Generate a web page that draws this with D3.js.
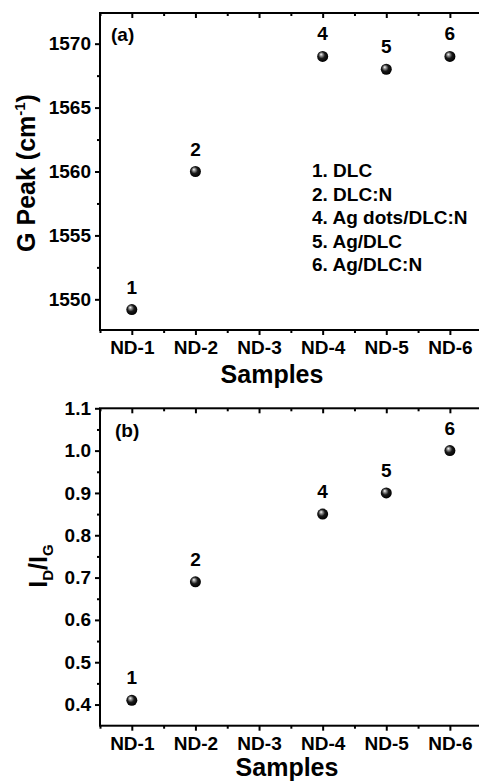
<!DOCTYPE html>
<html>
<head>
<meta charset="utf-8">
<script src="https://cdn.jsdelivr.net/npm/d3@7"></script>
<style>
  html, body { margin: 0; padding: 0; background: #fff; }
  svg { display: block; }
  text { font-family: "Liberation Sans", Arial, sans-serif; font-weight: bold; fill: #000; }
</style>
</head>
<body>
<div id="container"></div>
<script>
// data
let samples = ['ND-1', 'ND-2', 'ND-3', 'ND-4', 'ND-5', 'ND-6'];
let pointLabels = ['1', '2', '3', '4', '5', '6'];
let gPeak = [1549.2, 1560, null, 1569, 1568, 1569];
let ratio = [0.41, 0.69, null, 0.85, 0.90, 1.00];
let legendItems = ['1. DLC', '2. DLC:N', '4. Ag dots/DLC:N', '5. Ag/DLC', '6. Ag/DLC:N'];
let gTicks = [1550, 1555, 1560, 1565, 1570];
let gMinor = [1552.5, 1557.5, 1562.5, 1567.5];
let ratioTicks = [0.4, 0.5, 0.6, 0.7, 0.8, 0.9, 1.0, 1.1];
let ratioMinor = [0.45, 0.55, 0.65, 0.75, 0.85, 0.95, 1.05];

let width = 479;
let height = 781;
let svg = d3.create('svg').attr('width', width).attr('height', height);

// gradient for the little balls
let grad = svg.append('defs').append('radialGradient')
  .attr('id', 'ball').attr('cx', '45%').attr('cy', '45%').attr('r', '55%')
  .attr('fx', '35%').attr('fy', '30%');
grad.append('stop').attr('offset', '0%').attr('stop-color', '#ffffff');
grad.append('stop').attr('offset', '22%').attr('stop-color', '#999');
grad.append('stop').attr('offset', '55%').attr('stop-color', '#1a1a1a');
grad.append('stop').attr('offset', '100%').attr('stop-color', '#000');

let xScale = d3.scaleLinear().domain([0.5, 6.5]).range([100, 481.7]);
let xIdx = samples.map((d, i) => i + 1);
let xMinor = [0.5, 1.5, 2.5, 3.5, 4.5, 5.5];

function panel(cfg) {
  let y = d3.scaleLinear().domain(cfg.domain).range([cfg.bottom, cfg.top]);
  let g = svg.append('g');

  // frame
  g.append('rect')
    .attr('x', xScale(0.5)).attr('y', cfg.top)
    .attr('width', xScale(6.5) - xScale(0.5)).attr('height', cfg.bottom - cfg.top)
    .attr('fill', 'none').attr('stroke', '#000').attr('stroke-width', 2);

  // left axis, outward ticks
  let left = g.append('g').attr('transform', `translate(${xScale(0.5)},0)`);
  left.call(d3.axisLeft(y).tickValues(cfg.ticks).tickSize(5).tickPadding(4).tickFormat(cfg.fmt));
  left.append('g').call(d3.axisLeft(y).tickValues(cfg.minor).tickSize(3).tickFormat(''));

  // right axis, inward ticks
  let right = g.append('g').attr('transform', `translate(${xScale(6.5)},0)`);
  right.call(d3.axisLeft(y).tickValues(cfg.ticks).tickSize(-6).tickFormat(''));
  right.append('g').call(d3.axisLeft(y).tickValues(cfg.minor).tickSize(-3).tickFormat(''));

  // bottom axis, outward ticks
  let bottom = g.append('g').attr('transform', `translate(0,${cfg.bottom})`);
  bottom.call(d3.axisBottom(xScale).tickValues(xIdx).tickSize(5).tickPadding(6).tickFormat((d, i) => samples[i]));
  bottom.append('g').call(d3.axisBottom(xScale).tickValues(xMinor).tickSize(3).tickFormat(''));

  // top axis, inward ticks
  let topAx = g.append('g').attr('transform', `translate(0,${cfg.top})`);
  topAx.call(d3.axisTop(xScale).tickValues(xIdx).tickSize(-5).tickFormat(''));
  topAx.append('g').call(d3.axisTop(xScale).tickValues(xMinor).tickSize(-3).tickFormat(''));

  g.selectAll('.domain').remove();
  g.selectAll('.tick line').attr('stroke', '#000').attr('stroke-width', 2);
  g.selectAll('.tick text').attr('font-size', '19px').attr('font-family', '"Liberation Sans", Arial, sans-serif').attr('font-weight', 'bold').attr('fill', '#000');

  // points + numbers
  let pts = cfg.values.map((v, i) => ({ v: v, i: i })).filter(d => d.v != null);
  g.selectAll('.pt').data(pts).enter().append('circle')
    .attr('cx', d => xScale(d.i + 1)).attr('cy', d => y(d.v))
    .attr('r', 5.5).attr('fill', 'url(#ball)');
  g.selectAll('.num').data(pts).enter().append('text')
    .attr('x', d => xScale(d.i + 1)).attr('y', d => y(d.v) - 16)
    .attr('text-anchor', 'middle').attr('font-size', '19px')
    .text(d => pointLabels[d.i]);

  // panel tag
  g.append('text').attr('x', cfg.tagX).attr('y', cfg.tagY).attr('font-size', '19px').text(cfg.tag);

  // x title
  g.append('text').attr('x', cfg.xtX).attr('y', cfg.xtY).attr('text-anchor', 'middle')
    .attr('font-size', '25px').text('Samples');

  return { g: g, y: y };
}

let a = panel({
  domain: [1547.6, 1572.4], top: 13, bottom: 330,
  ticks: gTicks, minor: gMinor, fmt: d3.format('d'), values: gPeak,
  tag: '(a)', tagX: 111, tagY: 41, xtX: 272, xtY: 383
});

let b = panel({
  domain: [0.35, 1.1], top: 408.3, bottom: 725.7,
  ticks: ratioTicks, minor: ratioMinor, fmt: d3.format('.1f'), values: ratio,
  tag: '(b)', tagX: 115, tagY: 437, xtX: 287, xtY: 776
});

// legend in panel (a)
a.g.selectAll('.leg').data(legendItems).enter().append('text')
  .attr('x', 312).attr('y', (d, i) => 177 + i * 23.6)
  .attr('font-size', '19px').text(d => d);

// y titles
let ta = svg.append('text')
  .attr('transform', 'translate(35,173) rotate(-90)')
  .attr('text-anchor', 'middle').attr('font-size', '25px');
ta.append('tspan').text('G Peak (cm');
ta.append('tspan').attr('font-size', '15px').attr('dy', '-10').text('-1');
ta.append('tspan').attr('dy', '10').text(')');

let tb = svg.append('text')
  .attr('transform', 'translate(47,566) rotate(-90)')
  .attr('text-anchor', 'middle').attr('font-size', '25px');
tb.append('tspan').text('I');
tb.append('tspan').attr('font-size', '15px').attr('dy', '6').text('D');
tb.append('tspan').attr('dy', '-6').text('/I');
tb.append('tspan').attr('font-size', '15px').attr('dy', '6').text('G');

d3.select('#container').append(() => svg.node());
</script>
</body>
</html>
